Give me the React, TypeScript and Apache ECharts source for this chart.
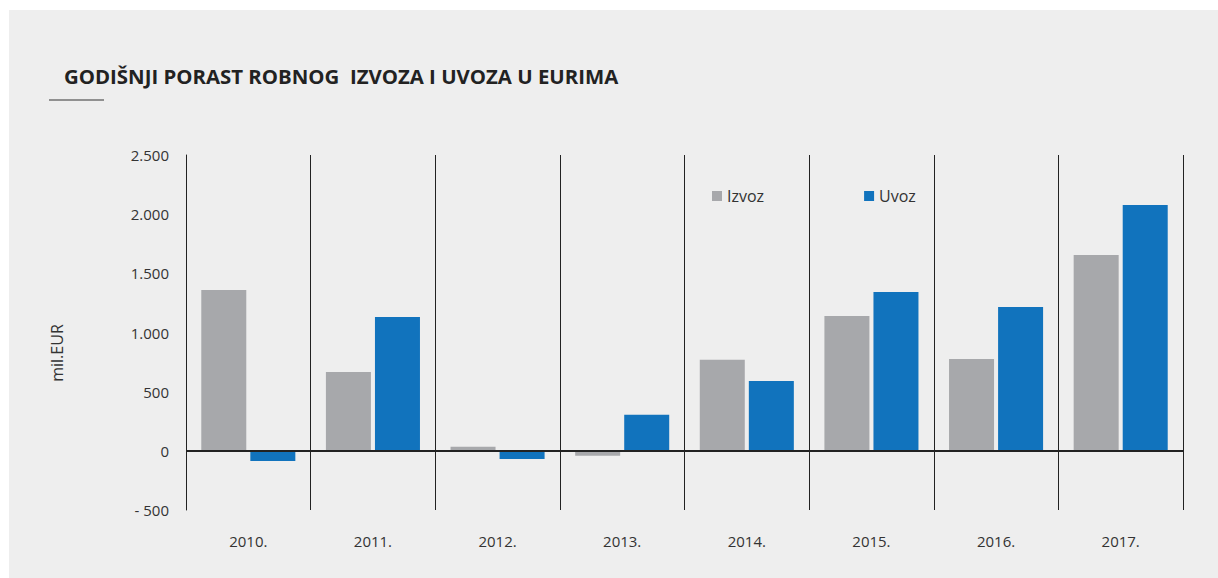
import React, { useEffect, useRef } from "react";
import * as echarts from "echarts";

const categories = ["2010.", "2011.", "2012.", "2013.", "2014.", "2015.", "2016.", "2017."];
const izvoz = [1360, 667, 35, -42, 769, 1140, 777, 1655];
const uvoz = [-85, 1132, -68, 304, 591, 1343, 1216, 2078];
const seriesNames = ["Izvoz", "Uvoz"];
const titleText = "GODIŠNJI PORAST ROBNOG  IZVOZA I UVOZA U EURIMA";
const yAxisName = "mil.EUR";

const FONT = "'Open Sans', sans-serif";

function fmt(v: number): string {
  const abs = Math.abs(v);
  const s = abs >= 1000 ? Math.floor(abs / 1000) + "." + String(abs % 1000).padStart(3, "0") : String(abs);
  return v < 0 ? "- " + s : s;
}

export default function App() {
  const ref = useRef<HTMLDivElement>(null);
  useEffect(() => {
    if (!ref.current) return;
    const chart = echarts.init(ref.current, null, { renderer: "svg" });
    chart.setOption({
      animation: false,
      backgroundColor: "#ffffff",
      textStyle: { fontFamily: FONT },
      graphic: [
        { type: "rect", z: -10, shape: { x: 9, y: 10, width: 1209, height: 568 }, style: { fill: "#eeeeee" }, silent: true },
        { type: "line", shape: { x1: 49, y1: 100, x2: 104, y2: 100 }, style: { stroke: "#333333", lineWidth: 1 } },
        {
          type: "text",
          x: 64,
          y: 76,
          style: { text: titleText, fontSize: 20.4, fontWeight: "bold", fill: "#222222", fontFamily: FONT, verticalAlign: "middle" },
        },
        {
          type: "text",
          x: 57,
          y: 353,
          rotation: Math.PI / 2,
          style: { text: yAxisName, fontSize: 16, fill: "#333333", fontFamily: FONT, align: "center", verticalAlign: "middle" },
        },
      ],
      legend: {
        left: 707,
        top: 183,
        itemWidth: 10,
        itemHeight: 10,
        itemGap: 100,
        icon: "rect",
        data: seriesNames,
        textStyle: { fontSize: 16, color: "#333333", fontFamily: FONT },
      },
      grid: { left: 186, right: 35, top: 155, bottom: 68, containLabel: false },
      xAxis: {
        type: "category",
        data: categories,
        boundaryGap: true,
        axisLine: { show: false, onZero: false },
        axisTick: { show: false },
        axisLabel: { margin: 23, fontSize: 15, color: "#333333", fontFamily: FONT },
        splitLine: { show: true, interval: 0, lineStyle: { color: "#222222", width: 1 } },
      },
      yAxis: {
        type: "value",
        min: -500,
        max: 2500,
        interval: 500,
        axisLine: { show: true, lineStyle: { color: "#222222", width: 1 } },
        axisTick: { show: false },
        splitLine: { show: false },
        axisLabel: { margin: 17, fontSize: 15, color: "#333333", fontFamily: FONT, formatter: (v: number) => fmt(v) },
      },
      series: [
        {
          name: seriesNames[0],
          type: "bar",
          data: izvoz,
          barWidth: 45,
          barGap: "9%",
          itemStyle: { color: "#a7a8ab" },
          markLine: {
            silent: true,
            symbol: ["none", "none"],
            label: { show: false },
            lineStyle: { color: "#222222", width: 2, type: "solid" },
            data: [{ yAxis: 0 }],
          },
        },
        {
          name: seriesNames[1],
          type: "bar",
          data: uvoz,
          barWidth: 45,
          itemStyle: { color: "#1173bd" },
        },
      ],
    });
    return () => chart.dispose();
  }, []);
  return <div ref={ref} style={{ position: "fixed", left: 0, top: 0, width: 1218, height: 578 }} />;
}
